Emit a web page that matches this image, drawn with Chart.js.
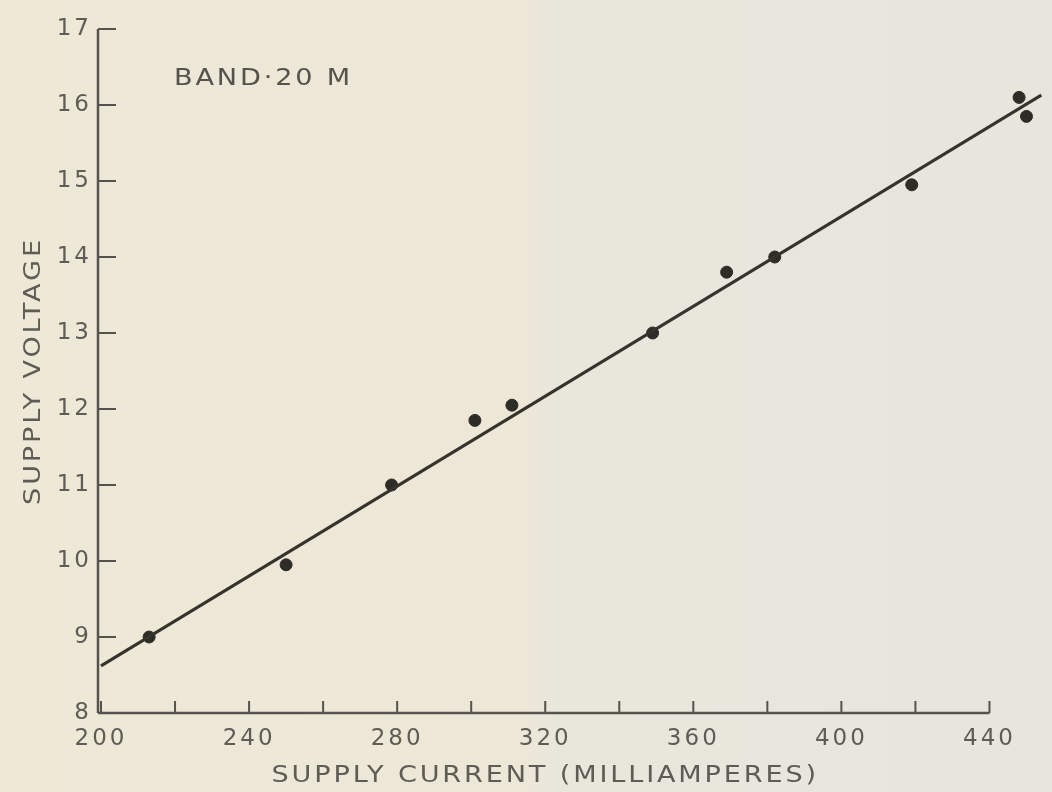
<!DOCTYPE html>
<html>
<head>
<meta charset="utf-8">
<script src="https://cdn.jsdelivr.net/npm/chart.js@4"></script>
<style>
  html, body { margin: 0; padding: 0; background: #ebe6d8; }
  #wrap { width: 1052px; height: 792px; }
</style>
</head>
<body>
<div id="wrap"><canvas id="voltChart"></canvas></div>
<script>
// measured points (mA, volts)
const currentMa = [213, 250, 278.5, 301, 311, 349, 369, 382, 419, 448, 450];
const supplyVolts = [9.0, 9.95, 11.0, 11.85, 12.05, 13.0, 13.8, 14.0, 14.95, 16.1, 15.85];

// straight line drawn through the points
const fitCurrent = [200, 454];
const fitVolts = [8.62, 16.13];

const xLabelTicks = [200, 240, 280, 320, 360, 400, 440];
const xMinorTicks = [200, 220, 240, 260, 280, 300, 320, 340, 360, 380, 400, 420, 440];
const yTicks = [8, 9, 10, 11, 12, 13, 14, 15, 16, 17];
const bandLabel = "BAND·20 M";
const xTitle = "SUPPLY CURRENT (MILLIAMPERES)";
const yTitle = "SUPPLY VOLTAGE";

const inkColor = "#35332c";
const textColor = "#5e5c54";
const labelFont = "'DejaVu Sans', sans-serif";

// wide lettering like the original stencil text
function wideText(ctx, text, x, y) {
    ctx.save();
    ctx.translate(x, y);
    ctx.scale(1.18, 1);
    ctx.fillText(text, 0, 0);
    ctx.restore();
}

// paper look, axis lines, ticks pointing inward, titles and band label
const paperPlugin = {
    id: "paper",
    beforeLayout(chart) {
        chart.ctx.letterSpacing = "3px";
    },
    beforeDraw(chart) {
        const ctx = chart.ctx;
        ctx.save();
        const g = ctx.createLinearGradient(0, 0, chart.width, 0);
        g.addColorStop(0, "#eee8d7");
        g.addColorStop(0.5, "#ede7d8");
        g.addColorStop(0.53, "#e9e6dc");
        g.addColorStop(1, "#e8e5dd");
        ctx.fillStyle = g;
        ctx.fillRect(0, 0, chart.width, chart.height);
        ctx.restore();
        ctx.letterSpacing = "3px";
    },
    afterDraw(chart) {
        const ctx = chart.ctx;
        const x = chart.scales.x;
        const y = chart.scales.y;
        const area = chart.chartArea;
        const x0 = x.getPixelForValue(xMinorTicks[0]);
        const x1 = x.getPixelForValue(xMinorTicks[xMinorTicks.length - 1]);
        ctx.save();
        ctx.strokeStyle = "#55534b";
        ctx.lineWidth = 2.5;
        ctx.beginPath();
        ctx.moveTo(x0 - 3, area.bottom);
        ctx.lineTo(x1, area.bottom);
        ctx.moveTo(x0 - 3, area.bottom);
        ctx.lineTo(x0 - 3, area.top);
        ctx.stroke();

        ctx.lineWidth = 2;
        ctx.beginPath();
        xMinorTicks.forEach(v => {
            const px = x.getPixelForValue(v);
            ctx.moveTo(px, area.bottom);
            ctx.lineTo(px, area.bottom - 12);
        });
        yTicks.forEach(v => {
            const py = y.getPixelForValue(v);
            ctx.moveTo(x0 - 3, py);
            ctx.lineTo(x0 + 15, py);
        });
        ctx.stroke();

        ctx.fillStyle = "#55534b";
        ctx.font = "23px " + labelFont;
        ctx.letterSpacing = "2.4px";
        ctx.textBaseline = "middle";
        ctx.textAlign = "left";
        wideText(ctx, bandLabel, x0 + 73, area.top + 50);

        ctx.fillStyle = textColor;
        ctx.textAlign = "center";
        wideText(ctx, xTitle, (x0 + x1) / 2, 776);
        ctx.translate(34, (area.top + area.bottom) / 2);
        ctx.rotate(-Math.PI / 2);
        wideText(ctx, yTitle, 0, 0);
        ctx.restore();
    }
};

const ctx = document.getElementById("voltChart").getContext("2d");
new Chart(ctx, {
    type: "scatter",
    data: {
        datasets: [
            {
                type: "line",
                label: "fit",
                data: fitCurrent.map((c, i) => ({ x: c, y: fitVolts[i] })),
                borderColor: inkColor,
                borderWidth: 3,
                pointRadius: 0,
                fill: false,
                clip: false
            },
            {
                label: "measured",
                data: currentMa.map((c, i) => ({ x: c, y: supplyVolts[i] })),
                backgroundColor: "#2e2c26",
                borderColor: "#2e2c26",
                pointRadius: 6,
                pointStyle: "circle",
                clip: false
            }
        ]
    },
    options: {
        responsive: true,
        maintainAspectRatio: false,
        animation: false,
        layout: { padding: { top: 29, right: 6, left: 0, bottom: 0 } },
        plugins: {
            legend: { display: false },
            tooltip: { enabled: false }
        },
        scales: {
            x: {
                type: "linear",
                min: 200,
                max: 455,
                grid: { display: false, drawTicks: false },
                border: { display: false },
                afterBuildTicks(scale) {
                    scale.ticks = xLabelTicks.map(v => ({ value: v }));
                },
                ticks: {
                    padding: 12,
                    color: textColor,
                    font: { family: labelFont, size: 23 }
                },
                afterFit(scale) { scale.height = 79; }
            },
            y: {
                min: 8,
                max: 17,
                grid: { display: false, drawTicks: false },
                border: { display: false },
                ticks: {
                    stepSize: 1,
                    padding: 9,
                    color: textColor,
                    font: { family: labelFont, size: 23 }
                },
                afterFit(scale) { scale.width = 101; }
            }
        }
    },
    plugins: [paperPlugin]
});
</script>
</body>
</html>
